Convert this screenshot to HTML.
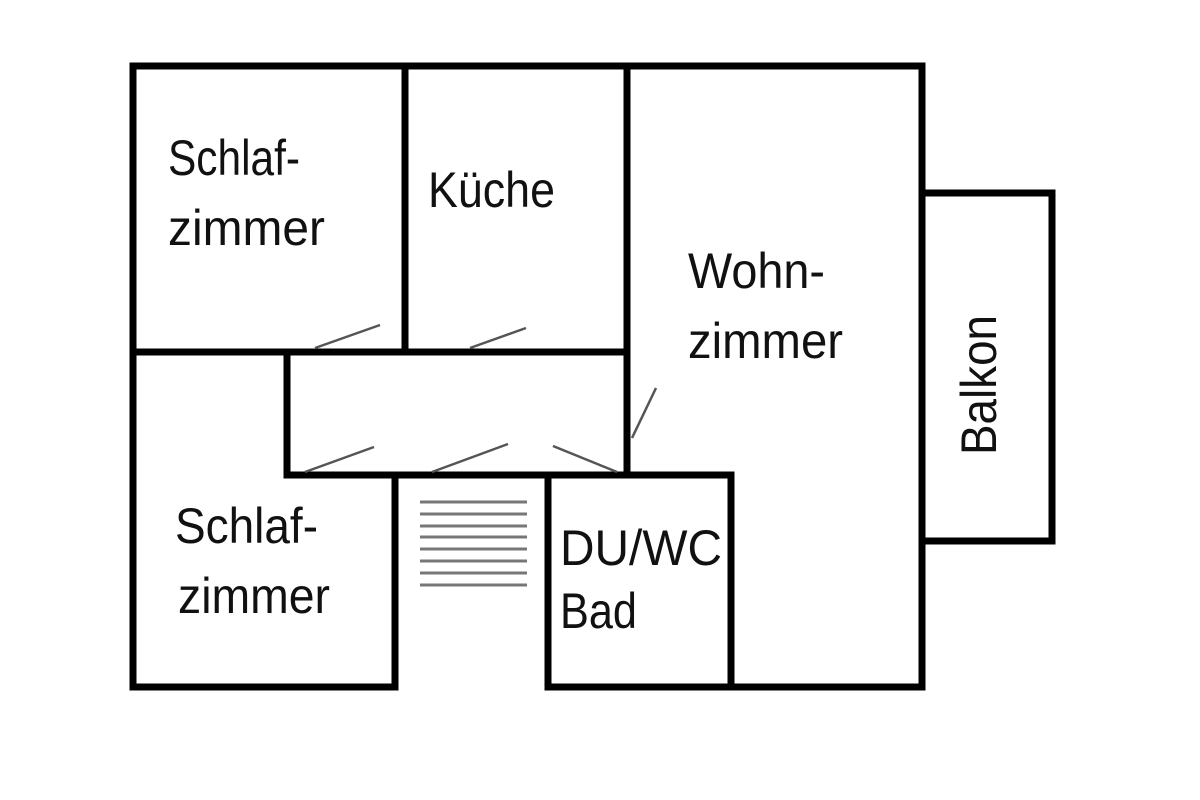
<!DOCTYPE html>
<html><head><meta charset="utf-8"><style>
html,body{margin:0;padding:0;background:#fff;}
svg{display:block}
text{font-family:"Liberation Sans Narrow","Liberation Sans",sans-serif;font-size:50px;fill:#111;}
</style></head><body>
<svg width="1200" height="800" viewBox="0 0 1200 800" xmlns="http://www.w3.org/2000/svg">
<g stroke="#000" stroke-width="7" fill="none" stroke-linecap="square">
<line x1="133" y1="66" x2="922" y2="66"/>
<line x1="133" y1="66" x2="133" y2="687"/>
<line x1="922" y1="66" x2="922" y2="687"/>
<line x1="133" y1="687" x2="395" y2="687"/>
<line x1="548" y1="687" x2="922" y2="687"/>
<line x1="405" y1="66" x2="405" y2="352"/>
<line x1="627" y1="66" x2="627" y2="475"/>
<line x1="133" y1="352" x2="627" y2="352"/>
<line x1="287" y1="352" x2="287" y2="475"/>
<line x1="287" y1="475" x2="731" y2="475"/>
<line x1="395" y1="475" x2="395" y2="687"/>
<line x1="548" y1="475" x2="548" y2="687"/>
<line x1="731" y1="475" x2="731" y2="687"/>
<rect x="922" y="193" width="130" height="348"/>
</g>
<g stroke="#555" stroke-width="2.5">
<line x1="315" y1="348" x2="380" y2="325"/>
<line x1="470" y1="348" x2="526" y2="328"/>
<line x1="305" y1="472" x2="374" y2="447"/>
<line x1="432" y1="472" x2="508" y2="444"/>
<line x1="553" y1="446" x2="617" y2="472"/>
<line x1="632" y1="438" x2="656" y2="388"/>
</g>
<g stroke="#777" stroke-width="3">
<line x1="420" y1="502" x2="527" y2="502"/>
<line x1="420" y1="514" x2="527" y2="514"/>
<line x1="420" y1="526" x2="527" y2="526"/>
<line x1="420" y1="537" x2="527" y2="537"/>
<line x1="420" y1="549" x2="527" y2="549"/>
<line x1="420" y1="561" x2="527" y2="561"/>
<line x1="420" y1="573" x2="527" y2="573"/>
<line x1="420" y1="585" x2="527" y2="585"/>
</g>
<text x="168" y="175" textLength="132" lengthAdjust="spacingAndGlyphs">Schlaf-</text>
<text x="168" y="245" textLength="157" lengthAdjust="spacingAndGlyphs">zimmer</text>
<text x="428" y="207" textLength="127" lengthAdjust="spacingAndGlyphs">Küche</text>
<text x="688" y="288" textLength="137" lengthAdjust="spacingAndGlyphs">Wohn-</text>
<text x="688" y="358" textLength="155" lengthAdjust="spacingAndGlyphs">zimmer</text>
<text x="175" y="543" textLength="143" lengthAdjust="spacingAndGlyphs">Schlaf-</text>
<text x="178" y="613" textLength="152" lengthAdjust="spacingAndGlyphs">zimmer</text>
<text x="560" y="565" textLength="162" lengthAdjust="spacingAndGlyphs">DU/WC</text>
<text x="560" y="628" textLength="77" lengthAdjust="spacingAndGlyphs">Bad</text>
<text transform="translate(996,455) rotate(-90)" x="0" y="0" textLength="140" lengthAdjust="spacingAndGlyphs">Balkon</text>
</svg>
</body></html>
